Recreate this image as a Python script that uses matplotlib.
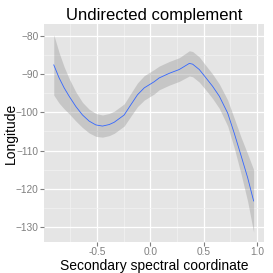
import matplotlib
matplotlib.use("Agg")
import matplotlib.pyplot as plt
import numpy as np

plt.rcParams['font.family'] = ['Liberation Sans', 'DejaVu Sans']

# smoothed fit and its standard error
x = [-0.903, -0.853, -0.806, -0.759, -0.696, -0.634, -0.572, -0.509, -0.447, -0.384,
     -0.337, -0.244, -0.181, -0.119, -0.056, 0.037, 0.084, 0.178, 0.272, 0.366,
     0.397, 0.459, 0.522, 0.584, 0.647, 0.725, 0.787, 0.850, 0.912, 0.968]
fit = [-87.6, -91.0, -93.6, -95.8, -98.5, -100.7, -102.3, -103.3, -103.6, -103.2,
       -102.6, -100.7, -98.0, -95.4, -93.6, -92.0, -91.0, -89.8, -88.8, -87.2,
       -87.4, -88.8, -91.0, -93.2, -95.8, -100.2, -105.5, -111.3, -117.1, -123.2]
se = [7.9, 6.6, 5.5, 4.6, 3.8, 3.3, 3.1, 3.0, 2.9, 2.9,
      2.9, 2.9, 3.0, 3.1, 3.2, 3.2, 3.1, 3.1, 3.1, 3.3,
      3.3, 3.3, 3.2, 3.2, 3.2, 3.4, 3.9, 4.8, 6.2, 8.2]

xticks = [-0.5, 0.0, 0.5, 1.0]
yticks = [-80, -90, -100, -110, -120, -130]

fit = np.array(fit)
se = np.array(se)

fig = plt.figure(figsize=(2.73, 2.73), dpi=100)
ax = fig.add_axes([0.161, 0.114, 0.806, 0.798])
ax.set_facecolor('#E5E5E5')

ax.fill_between(x, fit - se, fit + se, color='#999999', alpha=0.4, linewidth=0)
ax.plot(x, fit, color='#3366FF', linewidth=0.6)

ax.set_xlim(-0.995, 1.065)
ax.set_ylim(-133.9, -76.9)
ax.set_xticks(xticks)
ax.set_xticklabels(['-0.5', '0.0', '0.5', '1.0'])
ax.set_yticks(yticks)
ax.set_xticks([-0.75, -0.25, 0.25, 0.75], minor=True)
ax.set_yticks([-85, -95, -105, -115, -125], minor=True)
ax.grid(which='major', color='white', linewidth=0.9)
ax.grid(which='minor', color='#F2F2F2', linewidth=0.5)
ax.set_axisbelow(True)
for s in ax.spines.values():
    s.set_visible(False)
ax.tick_params(which='major', length=2.7, color='#7F7F7F', labelcolor='#7F7F7F',
               labelsize=7.3, pad=1.2)
ax.tick_params(which='minor', length=0)

ax.set_title('Undirected complement', fontsize=12, pad=3)
ax.set_xlabel('Secondary spectral coordinate', fontsize=10, labelpad=1)
ax.set_ylabel('Longitude', fontsize=10)
ax.yaxis.set_label_coords(-0.12, 0.5)

fig.savefig('out.png', dpi=100)
